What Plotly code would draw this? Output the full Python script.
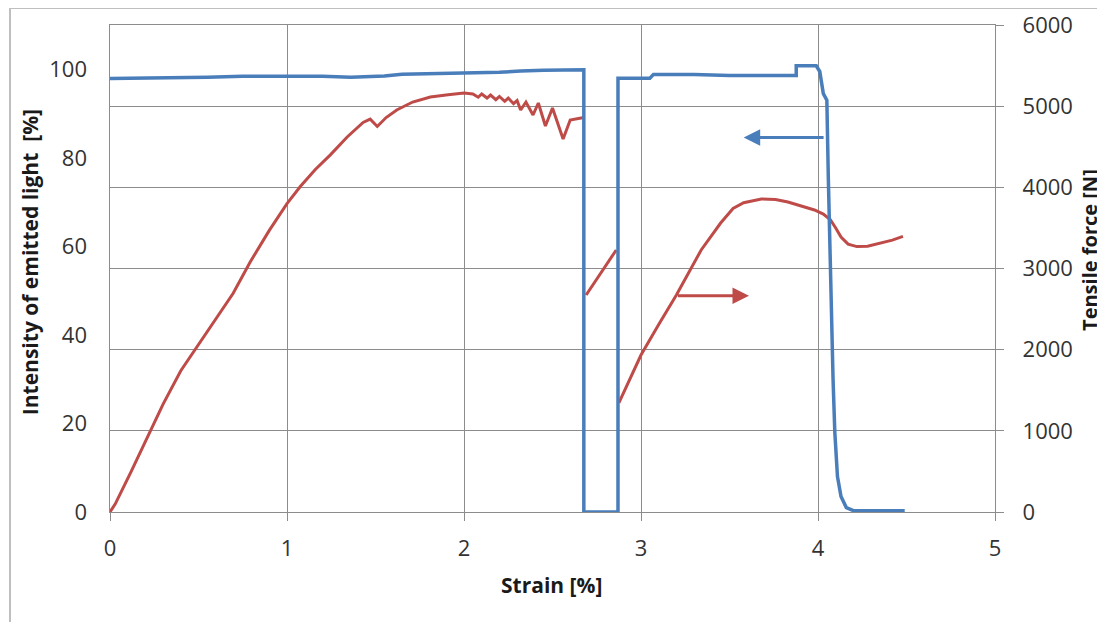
import plotly.graph_objects as go

# Light intensity (left axis, %)
light_strain = [0, 0.25, 0.55, 0.75, 1.0, 1.2, 1.36, 1.55, 1.65, 2.0, 2.2, 2.32, 2.45, 2.677,
                2.677, 2.87, 2.87, 3.05, 3.07, 3.3, 3.5, 3.877, 3.877, 3.99, 4.01, 4.03, 4.05,
                4.058, 4.065, 4.075, 4.085, 4.095, 4.11, 4.13, 4.16, 4.2, 4.49]
light_value = [97.9, 98.0, 98.2, 98.4, 98.5, 98.4, 98.2, 98.5, 98.9, 99.1, 99.3, 99.6, 99.8, 99.9,
               0, 0, 98.0, 98.0, 98.8, 98.8, 98.6, 98.6, 100.8, 100.8, 99.5, 94.5, 93.0,
               76, 62, 46, 30, 18, 8, 3.5, 1.0, 0.3, 0.3]

# Tensile force (right axis, N) - three recorded segments
force_strain_1 = [0, 0.03, 0.12, 0.226, 0.3, 0.4, 0.509, 0.6, 0.696, 0.792, 0.9, 1.0, 1.075,
                  1.16, 1.245, 1.34, 1.43, 1.47, 1.51, 1.56, 1.62, 1.71, 1.81, 1.91, 2.0, 2.05,
                  2.08, 2.1, 2.13, 2.15, 2.18, 2.2, 2.23, 2.25, 2.28, 2.3, 2.32, 2.35, 2.39,
                  2.42, 2.46, 2.5, 2.56, 2.6, 2.64, 2.677]
force_value_1 = [0, 100, 500, 985, 1330, 1740, 2094, 2390, 2694, 3080, 3470, 3800, 4010,
                 4220, 4400, 4620, 4800, 4840, 4750, 4860, 4953, 5051, 5113, 5140, 5162, 5150,
                 5110, 5150, 5100, 5137, 5080, 5120, 5060, 5100, 5030, 5070, 4953, 5051, 4891,
                 5039, 4755, 4977, 4595, 4830, 4850, 4860]
force_strain_2 = [2.69, 2.78, 2.86]
force_value_2 = [2673, 2960, 3228]
force_strain_3 = [2.875, 3.0, 3.1, 3.2, 3.34, 3.45, 3.52, 3.58, 3.68, 3.76, 3.83, 3.92, 3.98,
                  4.03, 4.07, 4.1, 4.13, 4.17, 4.22, 4.28, 4.36, 4.42, 4.48]
force_value_3 = [1343, 1934, 2310, 2673, 3228, 3560, 3740, 3810, 3856, 3850, 3819, 3760, 3721,
                 3670, 3600, 3500, 3388, 3300, 3270, 3275, 3314, 3350, 3395]

x_ticks = [0, 1, 2, 3, 4, 5]
light_ticks = [0, 20, 40, 60, 80, 100]
force_ticks = [0, 1000, 2000, 3000, 4000, 5000, 6000]

BLUE = "#4A7EBB"
RED = "#BE4B48"
GRID = "#8C8C8C"
FONT = "Open Sans"

fig = go.Figure()
for xs, ys in [(force_strain_1, force_value_1), (force_strain_2, force_value_2),
               (force_strain_3, force_value_3)]:
    fig.add_trace(go.Scatter(x=xs, y=ys, mode="lines", yaxis="y",
                             line=dict(color=RED, width=3), showlegend=False))
fig.add_trace(go.Scatter(x=light_strain, y=light_value, mode="lines", yaxis="y2",
                         line=dict(color=BLUE, width=3.5), showlegend=False))

fig.update_layout(
    width=1097, height=614,
    margin=dict(l=102, r=110, t=17, b=110, autoexpand=False),
    paper_bgcolor="white", plot_bgcolor="white",
    font=dict(family=FONT, size=22, color="#333333"),
    xaxis=dict(range=[0, 5], tickvals=x_ticks, showgrid=True, gridcolor=GRID, gridwidth=1.3,
               zeroline=False, showline=True, linecolor=GRID, linewidth=1.3, mirror=True,
               ticks="outside", ticklen=8, tickcolor=GRID, tickwidth=1.3,
               ticklabelstandoff=8, automargin=False),
    yaxis=dict(range=[0, 6000], tickvals=force_ticks, side="right", showgrid=True,
               gridcolor=GRID, gridwidth=1.3, zeroline=False, showline=True, linecolor=GRID,
               linewidth=1.3, mirror=True, ticks="outside", ticklen=8, tickcolor=GRID,
               tickwidth=1.3, ticklabelstandoff=14, automargin=False),
    yaxis2=dict(range=[0, 110], tickvals=light_ticks, overlaying="y", side="left",
                showgrid=False, zeroline=False, showline=False, ticks="",
                ticklabelstandoff=22, automargin=False),
)

ann = [
    dict(x=3.58, y=84.6, xref="x", yref="y2", ax=4.04, ay=84.6, axref="x", ayref="y2",
         text="", showarrow=True, arrowhead=2, arrowsize=1.1, arrowwidth=3, arrowcolor=BLUE),
    dict(x=3.61, y=2665, xref="x", yref="y", ax=3.2, ay=2665, axref="x", ayref="y",
         text="", showarrow=True, arrowhead=2, arrowsize=1.1, arrowwidth=3, arrowcolor=RED),
    dict(text="<b>Intensity of emitted light  [%]</b>", xref="paper", yref="paper",
         x=-0.0904, y=0.513, xanchor="center", yanchor="middle", textangle=-90,
         showarrow=False, font=dict(family=FONT, size=21, color="#1a1a1a")),
    dict(text="<b>Tensile force [N]</b>", xref="paper", yref="paper",
         x=1.1073, y=0.538, xanchor="center", yanchor="middle", textangle=-90,
         showarrow=False, font=dict(family=FONT, size=20, color="#1a1a1a")),
    dict(text="<b>Strain [%]</b>", xref="paper", yref="paper",
         x=0.4994, y=-0.15, xanchor="center", yanchor="middle", showarrow=False,
         font=dict(family=FONT, size=21, color="#1a1a1a")),
]
fig.update_layout(annotations=ann)

fig.add_shape(type="rect", xref="paper", yref="paper", x0=-0.113, x1=1.122, y0=-0.26, y1=1.035,
              line=dict(color="#BFBFBF", width=2), fillcolor="rgba(0,0,0,0)", layer="below")

fig.write_html("out.html")
